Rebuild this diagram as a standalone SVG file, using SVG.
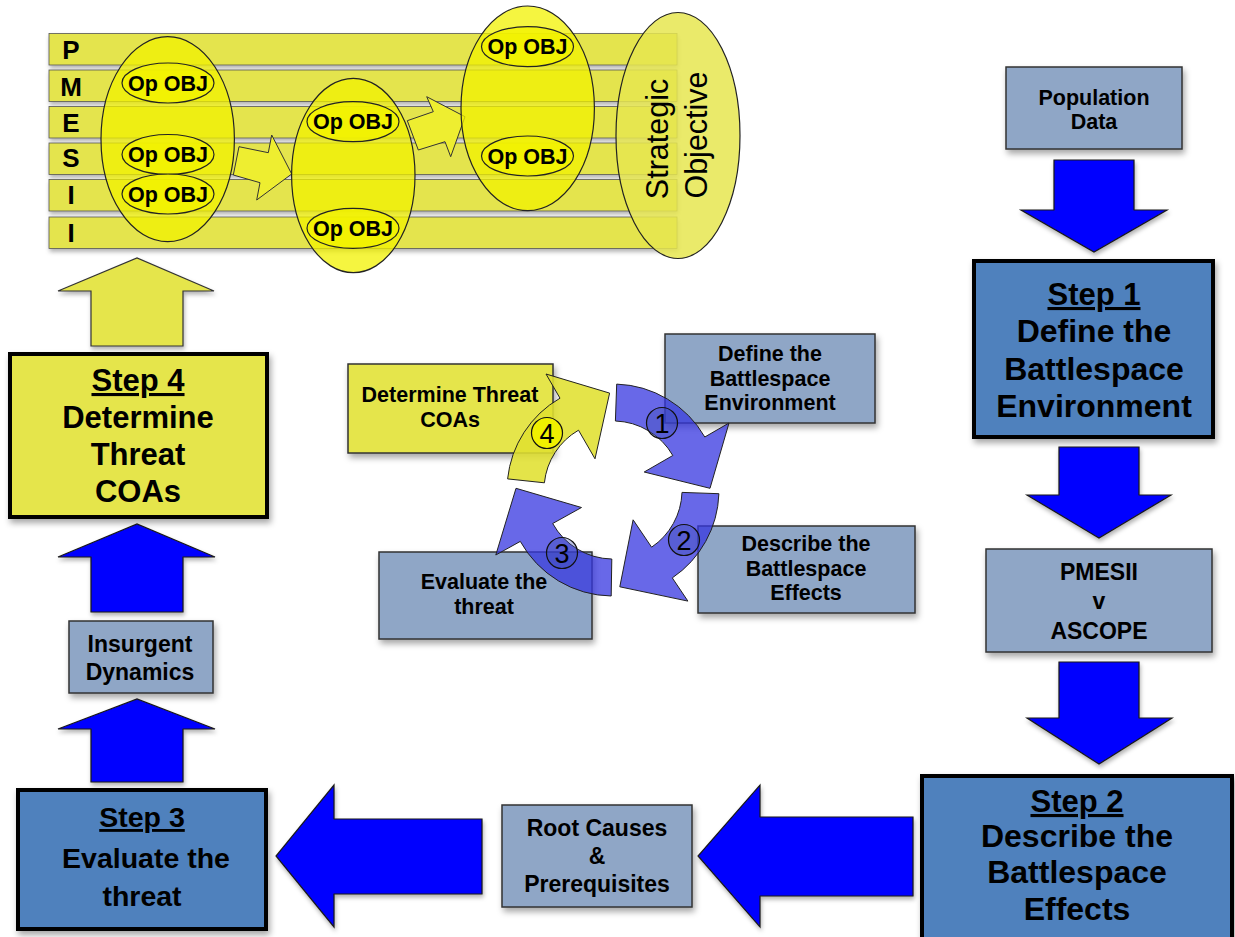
<svg xmlns="http://www.w3.org/2000/svg" width="1235" height="937" viewBox="0 0 1235 937">
<defs>
<filter id="sh" x="-20%" y="-20%" width="140%" height="150%">
<feDropShadow dx="2" dy="4" stdDeviation="3" flood-color="#000" flood-opacity="0.35"/>
</filter>
<filter id="shs" x="-20%" y="-20%" width="140%" height="150%">
<feDropShadow dx="1" dy="3" stdDeviation="2" flood-color="#000" flood-opacity="0.3"/>
</filter>
</defs>
<style>
text{font-family:"Liberation Sans",Arial,sans-serif;font-weight:bold;fill:#000;text-anchor:middle}
.steel{fill:#8fa6c6;stroke:#333;stroke-width:1.5;filter:url(#sh)}
.step{fill:#4f81bd;stroke:#000;stroke-width:4;filter:url(#sh)}
.stepy{fill:#e5e54c;stroke:#000;stroke-width:4;filter:url(#sh)}
.barr{fill:#0000ff;stroke:#1a1a1a;stroke-width:1.2;filter:url(#shs)}
.yarr{fill:#e5e54c;stroke:#333;stroke-width:1.2;filter:url(#shs)}
.bar{fill:#e4e44e;stroke:#555;stroke-width:0.8;filter:url(#shs)}
.big{fill:#f2f200;fill-opacity:0.75;stroke:#222;stroke-width:1.2}
.op{fill:#f2f200;fill-opacity:0.8;stroke:#222;stroke-width:1.2}
.small{fill:#eeee30;stroke:#333;stroke-width:1}
.cyc{fill:#3636e0;fill-opacity:0.75;stroke:#222;stroke-width:1}
.cycy{fill:#e0e030;fill-opacity:0.88;stroke:#222;stroke-width:1}
.num{font-weight:normal;font-size:27px}
.l{font-size:26px}
.o{font-size:21.5px}
.s32{font-size:32px}
.s31{font-size:31px}
.s28{font-size:28.5px}
.s23{font-size:23px}
.s215{font-size:21.5px}
.u{text-decoration:underline}
</style>

<!-- PMESII matrix -->
<g id="pmesii-matrix">
<rect class="bar" x="49" y="33.5" width="628" height="31.5"/>
<rect class="bar" x="49" y="70" width="628" height="31.5"/>
<rect class="bar" x="49" y="106.5" width="628" height="31.5"/>
<rect class="bar" x="49" y="143" width="628" height="31.5"/>
<rect class="bar" x="49" y="179.5" width="628" height="31.5"/>
<rect class="bar" x="49" y="217" width="628" height="31.5"/>
<text class="l" x="71" y="59">P</text>
<text class="l" x="71" y="96">M</text>
<text class="l" x="71" y="131.5">E</text>
<text class="l" x="71" y="167">S</text>
<text class="l" x="71" y="204">I</text>
<text class="l" x="71" y="242">I</text>
<polygon class="small" points="239,146.7 268.3,152.7 271.7,135 291.7,174 256.7,200 260,182.7 233.3,175"/>
<polygon class="small" points="407.3,120.7 433.3,111.7 426.7,96.7 465,116.7 450.7,156.7 445,141.7 418.3,150"/>
</g>
<g id="phase1">
<ellipse class="big" cx="167.7" cy="139.2" rx="66.7" ry="102.5"/>
<ellipse class="op" cx="168" cy="83" rx="46" ry="20"/>
<text class="o" x="168" y="90.5">Op OBJ</text>
<ellipse class="op" cx="168" cy="154.5" rx="46" ry="20"/>
<text class="o" x="168" y="162">Op OBJ</text>
<ellipse class="op" cx="168" cy="194" rx="46" ry="20"/>
<text class="o" x="168" y="201.5">Op OBJ</text>
</g>
<g id="phase2">
<ellipse class="big" cx="353.3" cy="175.5" rx="61.7" ry="97.2"/>
<ellipse class="op" cx="353" cy="121.7" rx="46" ry="20"/>
<text class="o" x="353" y="129.2">Op OBJ</text>
<ellipse class="op" cx="353" cy="228.3" rx="46" ry="20"/>
<text class="o" x="353" y="235.8">Op OBJ</text>
</g>
<g id="phase3">
<ellipse class="big" cx="527.7" cy="108.3" rx="66.7" ry="102.3"/>
<ellipse class="op" cx="527.5" cy="46.7" rx="46" ry="20"/>
<text class="o" x="527.5" y="54.2">Op OBJ</text>
<ellipse class="op" cx="527.5" cy="156" rx="46" ry="20"/>
<text class="o" x="527.5" y="163.5">Op OBJ</text>
</g>
<g id="strategic-objective">
<ellipse cx="678" cy="135.5" rx="62" ry="123" fill="#e6e650" fill-opacity="0.85" stroke="#222" stroke-width="1.2"/>
<text transform="translate(668,139) rotate(-90)" style="font-weight:normal;font-size:30.5px">Strategic</text>
<text transform="translate(707,135) rotate(-90)" style="font-weight:normal;font-size:30.5px">Objective</text>
</g>

<!-- connectors (block arrows) -->
<g id="connectors">
<polygon class="yarr" points="91,346 91,291 58,291 137,258 214,291 183,291 183,346"/>
<polygon class="barr" points="91,612 91,557 58,557 137,524 215,557 183,557 183,612"/>
<polygon class="barr" points="91,782 91,729 58,729 137,699 215,729 183,729 183,782"/>
<polygon class="barr" points="1054,160 1134,160 1134,210 1167,210 1094,252 1021,210 1054,210"/>
<polygon class="barr" points="1059,447 1139,447 1139,495 1171,495 1099,538 1027,495 1059,495"/>
<polygon class="barr" points="1059,662 1139,662 1139,718 1172,718 1099,764 1027,718 1059,718"/>
<polygon class="barr" points="913,817 760,817 760,785 698,856 760,927 760,896 913,896"/>
<polygon class="barr" points="482,819 334,819 334,785 276,856 334,927 334,894 482,894"/>
</g>

<!-- main nodes -->
<g id="population-data">
<rect class="steel" x="1006" y="67" width="176" height="82"/>
<text class="s215" x="1094" y="105">Population</text>
<text class="s215" x="1094" y="129">Data</text>
</g>
<g id="step1">
<rect class="step" x="974" y="261" width="239" height="176"/>
<text class="s31 u" x="1094" y="305">Step 1</text>
<text class="s32" x="1094" y="342">Define the</text>
<text class="s32" x="1094" y="380">Battlespace</text>
<text class="s32" x="1094" y="417">Environment</text>
</g>
<g id="pmesii-ascope">
<rect class="steel" x="986" y="549" width="226" height="103"/>
<text class="s23" x="1099" y="580">PMESII</text>
<text class="s23" x="1099" y="609">v</text>
<text class="s23" x="1099" y="639">ASCOPE</text>
</g>
<g id="step2">
<rect class="step" x="922" y="776" width="310" height="180"/>
<text class="s31 u" x="1077" y="812">Step 2</text>
<text class="s32" x="1077" y="847">Describe the</text>
<text class="s32" x="1077" y="883">Battlespace</text>
<text class="s32" x="1077" y="920">Effects</text>
</g>
<g id="root-causes">
<rect class="steel" x="502" y="805" width="190" height="102"/>
<text class="s23" x="597" y="836">Root Causes</text>
<text class="s23" x="597" y="864">&amp;</text>
<text class="s23" x="597" y="892">Prerequisites</text>
</g>
<g id="step3">
<rect class="step" x="18" y="790" width="248" height="139"/>
<text class="s28 u" x="142" y="827">Step 3</text>
<text class="s28" x="146" y="868">Evaluate the</text>
<text class="s28" x="142" y="906">threat</text>
</g>
<g id="insurgent-dynamics">
<rect class="steel" x="69" y="621" width="144" height="72"/>
<text class="s23" x="140" y="652">Insurgent</text>
<text class="s23" x="140" y="680">Dynamics</text>
</g>
<g id="step4">
<rect class="stepy" x="10" y="354" width="257" height="163"/>
<text class="s31 u" x="138" y="391">Step 4</text>
<text class="s31" x="138" y="428">Determine</text>
<text class="s31" x="138" y="465">Threat</text>
<text class="s31" x="138" y="502">COAs</text>
</g>

<!-- cycle -->
<g id="cycle-define">
<rect class="steel" x="665" y="334" width="210" height="89"/>
<text class="s215" x="770" y="361">Define the</text>
<text class="s215" x="770" y="386">Battlespace</text>
<text class="s215" x="770" y="410">Environment</text>
</g>
<g id="cycle-describe">
<rect class="steel" x="698" y="526" width="217" height="87"/>
<text class="s215" x="806" y="551">Describe the</text>
<text class="s215" x="806" y="576">Battlespace</text>
<text class="s215" x="806" y="600">Effects</text>
</g>
<g id="cycle-evaluate">
<rect class="steel" x="379" y="552" width="213" height="87"/>
<text class="s215" x="484" y="589">Evaluate the</text>
<text class="s215" x="484" y="614">threat</text>
</g>
<g id="cycle-determine">
<rect x="348" y="364" width="205" height="89" fill="#e5e54c" stroke="#333" stroke-width="1.5" filter="url(#sh)"/>
<text class="s215" x="450" y="402">Determine Threat</text>
<text class="s215" x="450" y="427">COAs</text>
</g>
<g id="cycle-arrows">
<path class="cyc" d="M616.7,384.1 A106,106 0 0 1 704.8,437 L729,423 L710,488.3 L644.2,472 L672.8,455.5 A69,69 0 0 0 615.4,421 Z"/>
<path class="cyc" d="M718.9,493.7 A106,106 0 0 1 672.3,577.9 L687.9,601.1 L619.8,586.8 L633.1,519.8 L651.6,547.2 A69,69 0 0 0 682,492.4 Z"/>
<path class="cyc" d="M611.2,596 A106,106 0 0 1 520.3,541.4 L495.8,555 L516,488.3 L581.5,507.5 L552.7,523.5 A69,69 0 0 0 611.8,559 Z"/>
<path class="cycy" d="M507.6,478.9 A106,106 0 0 1 560,398.2 L546,374 L609.6,393.1 L595,458.8 L578.5,430.2 A69,69 0 0 0 544.4,482.8 Z"/>
<circle cx="662" cy="423" r="15.5" fill="#3c4cb0" fill-opacity="0.35" stroke="#111" stroke-width="1.2"/>
<text class="num" x="662" y="432.5">1</text>
<circle cx="684" cy="540" r="15.5" fill="#3c4cb0" fill-opacity="0.35" stroke="#111" stroke-width="1.2"/>
<text class="num" x="684" y="549.5">2</text>
<circle cx="562" cy="553" r="15.5" fill="#3c4cb0" fill-opacity="0.35" stroke="#111" stroke-width="1.2"/>
<text class="num" x="562" y="562.5">3</text>
<circle cx="547" cy="433" r="15.5" fill="#f0f000" stroke="#111" stroke-width="1.2"/>
<text class="num" x="547" y="442.5">4</text>
</g>
</svg>
